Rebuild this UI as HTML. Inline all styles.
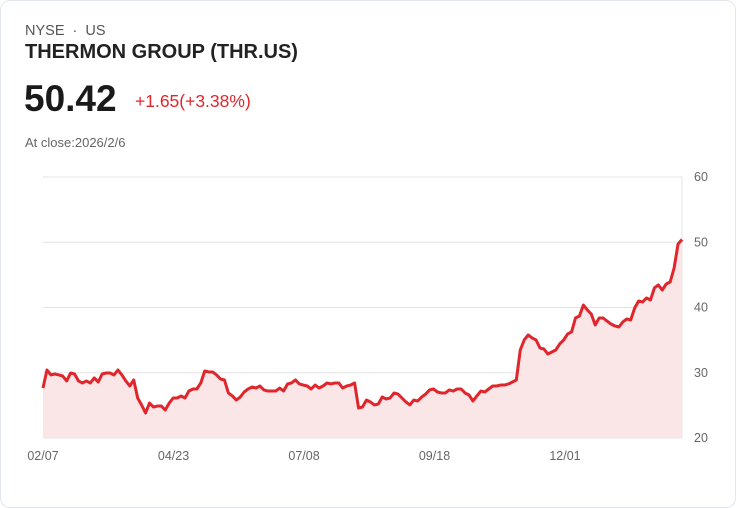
<!DOCTYPE html>
<html><head><meta charset="utf-8"><style>
html,body{margin:0;padding:0;background:#fff;}
body{width:736px;height:508px;position:relative;font-family:"Liberation Sans",sans-serif;overflow:hidden;}
#card{position:absolute;left:0;top:0;width:734px;height:506px;border:1px solid #e3e6ea;border-radius:10px;}
.t{position:absolute;white-space:nowrap;}
</style></head><body>
<div id="card"></div>
<div class="t" style="left:25px;top:23px;font-size:14.5px;color:#555;">NYSE &nbsp;·&nbsp; US</div>
<div class="t" style="left:25px;top:41px;font-size:20px;font-weight:bold;color:#222;">THERMON GROUP (THR.US)</div>
<div class="t" style="left:24px;top:78px;font-size:37px;font-weight:bold;color:#1a1a1a;">50.42</div>
<div class="t" style="left:135px;top:91px;font-size:17.5px;color:#e0262c;">+1.65(+3.38%)</div>
<div class="t" style="left:25px;top:135px;font-size:13px;color:#666;">At close:2026/2/6</div>
<svg id="chart" width="736" height="508" style="position:absolute;left:0;top:0;"></svg>
<script>
const yTicks=[20,30,40,50,60];
const xLabels=["02/07","04/23","07/08","09/18","12/01"];
const xLabelFrac=[0,0.2043,0.4085,0.6127,0.8169];
const prices=[27.66,30.42,29.66,29.81,29.66,29.50,28.74,29.96,29.81,28.74,28.43,28.74,28.43,29.20,28.58,29.81,29.96,29.96,29.66,30.42,29.66,28.74,27.97,28.89,26.13,25.06,23.83,25.36,24.75,24.90,24.90,24.29,25.36,26.13,26.13,26.44,26.13,27.20,27.51,27.51,28.43,30.27,30.12,30.12,29.66,29.04,28.89,26.90,26.44,25.82,26.28,27.05,27.51,27.82,27.66,27.97,27.36,27.20,27.20,27.20,27.66,27.20,28.28,28.43,28.89,28.28,28.12,27.97,27.51,28.12,27.66,27.97,28.43,28.28,28.43,28.43,27.66,27.97,28.12,28.43,24.60,24.75,25.82,25.52,25.06,25.21,26.28,25.98,26.13,26.90,26.74,26.13,25.52,25.06,25.82,25.67,26.28,26.74,27.36,27.51,27.05,26.90,26.90,27.36,27.20,27.51,27.51,26.90,26.59,25.67,26.44,27.20,27.05,27.51,27.97,27.97,28.12,28.12,28.28,28.58,28.89,33.49,35.02,35.79,35.33,35.02,33.79,33.64,32.87,33.18,33.49,34.41,35.02,35.94,36.25,38.39,38.70,40.38,39.62,39.00,37.32,38.39,38.39,37.93,37.47,37.17,37.01,37.78,38.24,38.08,39.92,41.00,40.84,41.46,41.15,42.99,43.45,42.68,43.60,43.91,46.05,49.73,50.42];
const svg=document.getElementById('chart');
const NS='http://www.w3.org/2000/svg';
const L=43,R=682,T=177,B=438,vmin=20,vmax=60;
const xs=i=>L+(R-L)*i/(prices.length-1);
const xf=f=>L+(R-L)*f;
const ys=v=>B-(v-vmin)/(vmax-vmin)*(B-T);
function mk(tag,attrs){const e=document.createElementNS(NS,tag);for(const k in attrs)e.setAttribute(k,attrs[k]);svg.appendChild(e);return e;}
yTicks.forEach(v=>{
 const g=mk('line',{x1:L,x2:R,y1:ys(v),y2:ys(v),stroke:'#e3e3e3','stroke-width':1});
 
 
 const t=mk('text',{x:694,y:ys(v)+4,'font-size':12.5,fill:'#666','font-family':'Liberation Sans, sans-serif'});
 t.textContent=v;
 
 
});
const ax=mk('line',{x1:R,x2:R,y1:T,y2:B,stroke:'#e3e3e3','stroke-width':1});


xLabels.forEach((s,k)=>{
 const t=mk('text',{x:xf(xLabelFrac[k]),y:460,'font-size':12.5,fill:'#666','text-anchor':'middle','font-family':'Liberation Sans, sans-serif'});
 t.textContent=s;
 
 
});
let d=prices.map((v,i)=>(i?'L':'M')+xs(i).toFixed(2)+' '+ys(v).toFixed(2)).join(' ');
const area=mk('path',{d:d+` L${R} ${B} L${L} ${B} Z`,fill:'#fbe6e7'});


const line=mk('path',{d:d,fill:'none',stroke:'#e0262c','stroke-width':3,'stroke-linejoin':'round'});


</script>
</body></html>
